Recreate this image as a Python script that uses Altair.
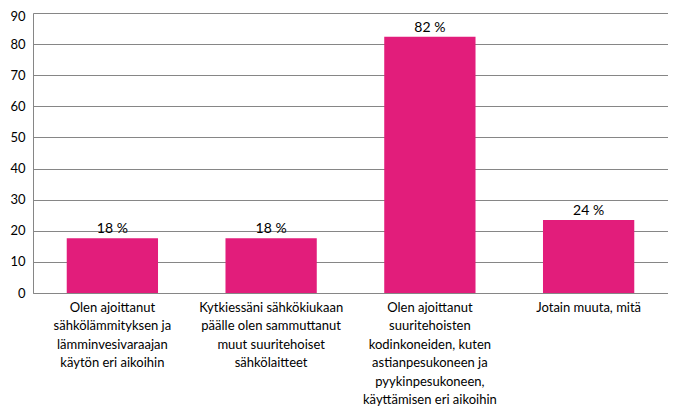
import altair as alt
import pandas as pd

categories = [
    "Olen ajoittanut|sähkölämmityksen ja|lämminvesivaraajan|käytön eri aikoihin",
    "Kytkiessäni sähkökiukaan|päälle olen sammuttanut|muut suuritehoiset|sähkölaitteet",
    "Olen ajoittanut|suuritehoisten|kodinkoneiden, kuten|astianpesukoneen ja|pyykinpesukoneen,|käyttämisen eri aikoihin",
    "Jotain muuta, mitä",
]
values = [17.6, 17.6, 82.4, 23.5]
labels = ["18 %", "18 %", "82 %", "24 %"]
y_ticks = [0, 10, 20, 30, 40, 50, 60, 70, 80, 90]

df = pd.DataFrame({"cat": categories, "value": values, "label": labels})

FONT = "Lato"

x = alt.X(
    "cat:N",
    sort=None,
    title=None,
    scale=alt.Scale(paddingInner=0.425, paddingOuter=0.2125),
    axis=alt.Axis(
        labelAngle=0,
        labelExpr="split(datum.label, '|')",
        labelLimit=300,
        labelFontSize=13,
        labelFont=FONT,
        labelColor="#000000",
        labelPadding=8,
        labelLineHeight=18.5,
        labelBaseline="top",
        ticks=False,
        domainColor="#868686",
        grid=False,
    ),
)

y = alt.Y(
    "value:Q",
    title=None,
    scale=alt.Scale(domain=[0, 90], nice=False),
    axis=alt.Axis(
        values=y_ticks,
        labelOverlap=False,
        labelFontSize=13,
        labelFont=FONT,
        labelColor="#000000",
        labelPadding=8,
        labelOffset={"condition": {"test": "datum.value == 90", "value": 3}, "value": 0},
        ticks=False,
        domainColor="#868686",
        gridColor="#868686",
        gridWidth=1,
    ),
)

base = alt.Chart(df).encode(x=x, y=y)

bars = base.mark_bar(color="#E21D7B")
text = base.mark_text(dy=-9, fontSize=14, font=FONT, color="#000000").encode(
    text="label:N"
)

chart = (
    alt.layer(bars, text)
    .properties(
        width=635,
        height=280,
        autosize=alt.AutoSizeParams(type="none"),
        padding={"left": 25, "top": 5, "right": 0, "bottom": 114},
    )
    .configure_view(stroke=None)
    .configure(background="white")
)

chart.save("out.html", embed_options={"renderer": "svg", "actions": False})
